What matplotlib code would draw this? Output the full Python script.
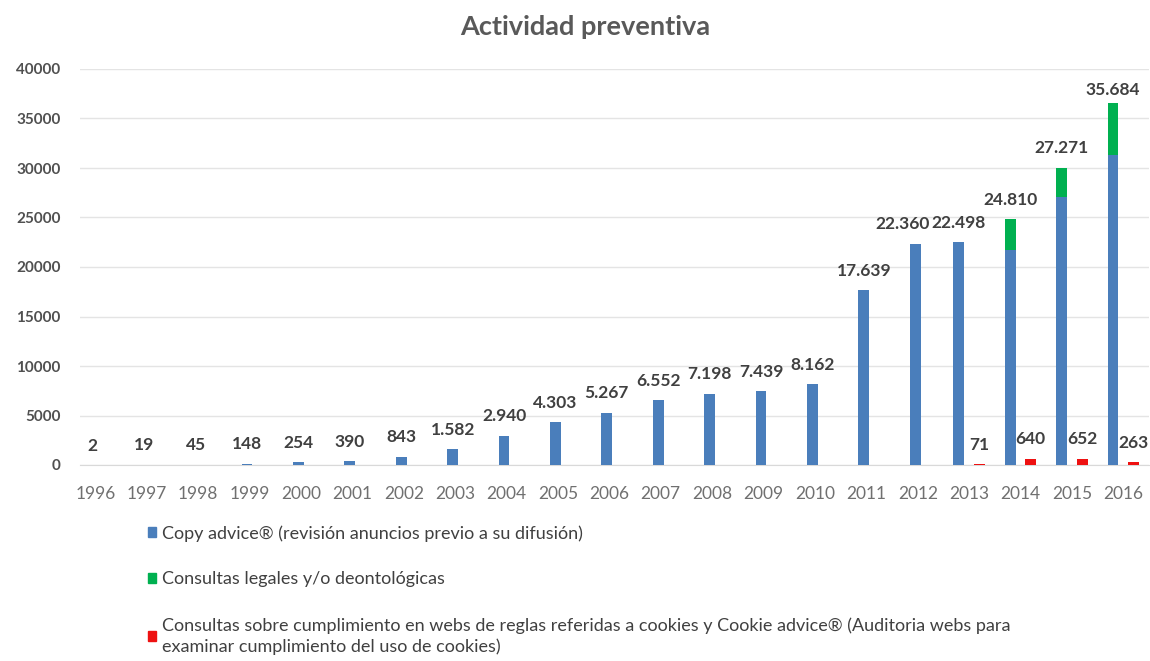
import numpy as np
import matplotlib.pyplot as plt
from matplotlib.patches import Patch

plt.rcParams['font.family'] = ['Lato', 'DejaVu Sans']

years = [str(y) for y in range(1996, 2017)]
# copy advice (blue), consultas legales (green), cookies (red)
copy_advice = [2, 19, 45, 148, 254, 390, 843, 1582, 2940, 4303, 5267, 6552,
               7198, 7439, 8162, 17639, 22360, 22498, 21700, 27050, 31300]
consultas = [0, 0, 0, 0, 0, 0, 0, 0, 0, 0, 0, 0,
             0, 0, 0, 0, 0, 0, 3150, 3000, 5300]
cookies = [0, 0, 0, 0, 0, 0, 0, 0, 0, 0, 0, 0,
           0, 0, 0, 0, 0, 71, 640, 652, 263]
# totals as printed on the chart
totales = [2, 19, 45, 148, 254, 390, 843, 1582, 2940, 4303, 5267, 6552,
           7198, 7439, 8162, 17639, 22360, 22498, 24810, 27271, 35684]

labels_leg = [
    "Copy advice® (revisión anuncios previo a su difusión)",
    "Consultas legales y/o deontológicas",
    "Consultas sobre cumplimiento en webs de reglas referidas a cookies y Cookie advice® (Auditoria webs para\nexaminar cumplimiento del uso de cookies)",
]

c_blue = '#4a7ebb'
c_green = '#00b050'
c_red = '#ee1111'

def fmt(v):
    return f"{v:,}".replace(",", ".")

fig = plt.figure(figsize=(11.5, 6.61), dpi=100)
ax = fig.add_axes([80/1150, (661-465)/661, 1069/1150, 396/661])

x = np.arange(len(years))
w = 0.21
off = 0.2
has_red = np.array(cookies) > 0
xb = x - np.where(has_red, off, 0.05)

ax.bar(xb, copy_advice, width=w, color=c_blue, zorder=3)
ax.bar(xb, consultas, width=w, bottom=copy_advice, color=c_green, zorder=3)
ax.bar(x[has_red] + off, np.array(cookies)[has_red], width=w, color=c_red, zorder=3)

# 2012 label was moved left in the original so it doesn't hit 2013
nudge = {'2012': -13}
tops = np.array(copy_advice) + np.array(consultas)
for yr, xi, t, lab in zip(years, xb, tops, totales):
    ax.annotate(fmt(lab), (xi, min(t, 35900)), xytext=(nudge.get(yr, 0) * 0.72, 14),
                textcoords='offset points', ha='center', va='center',
                fontsize=12.5, fontweight='bold', color='#404040')
for xi, v in zip(x[has_red] + off, np.array(cookies)[has_red]):
    ax.annotate(fmt(v), (xi, v), xytext=(0, 14), textcoords='offset points',
                ha='center', va='center', fontsize=12.5, fontweight='bold', color='#404040')

ax.set_xlim(-0.3, 20.5)
ax.set_ylim(0, 40000)
ax.set_yticks(range(0, 40001, 5000))
ax.set_xticks(x)
ax.set_xticklabels(years)
ax.tick_params(axis='x', length=0, pad=15, labelsize=12.5, colors='#707070')
ax.tick_params(axis='y', length=0, pad=14, labelsize=11, colors='#505050')
for lb in ax.get_yticklabels():
    lb.set_fontweight('bold')
ax.grid(axis='y', color='#e4e4e4', linewidth=1, zorder=0)
for s in ['top', 'right', 'left']:
    ax.spines[s].set_visible(False)
ax.spines['bottom'].set_color('#d9d9d9')

fig.text(585/1150, 1 - 27/661, "Actividad preventiva", ha='center', va='center',
         fontsize=19.5, fontweight='bold', color='#595959')

handles = [Patch(color=c_blue), Patch(color=c_green), Patch(color=c_red)]
leg = fig.legend(handles, labels_leg, loc='upper left', bbox_to_anchor=(148/1150, 1 - 525/661),
                 frameon=False, fontsize=13, labelspacing=1.65, handlelength=0.45,
                 handleheight=0.45, handletextpad=0.35, borderpad=0, borderaxespad=0,
                 labelcolor='#404040')
leg.get_texts()[2].set_linespacing(1.35)

fig.savefig('out.png', dpi=100, facecolor='white')
